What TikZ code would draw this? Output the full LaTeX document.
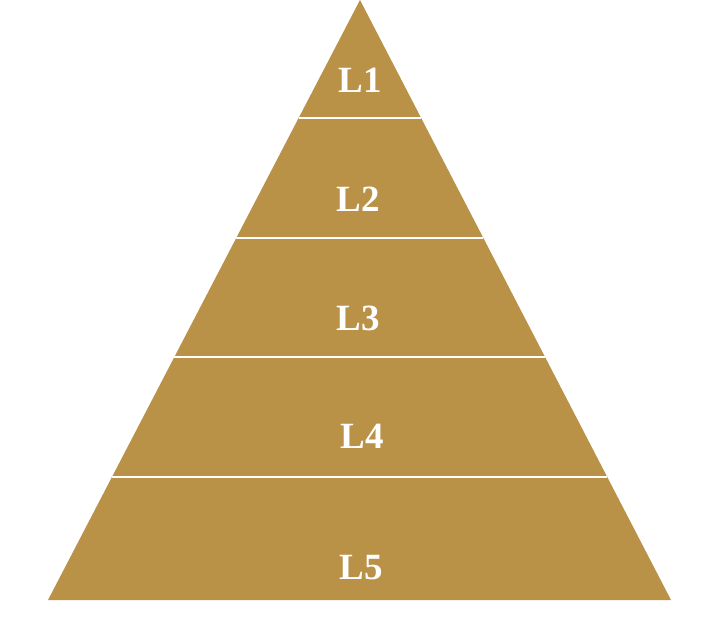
\documentclass[tikz,border=0pt]{standalone}
\usepackage{fontspec}
\setmainfont{Liberation Serif}
\usetikzlibrary{calc}
\definecolor{gold}{HTML}{B99248}
\begin{document}
\begin{tikzpicture}[x=1pt,y=-1pt,
  lbl/.style={text=white,font=\fontsize{37}{37}\selectfont\bfseries,inner sep=0pt},
  sep/.style={draw=white,line width=2pt}]
\useasboundingbox (0,0) rectangle (720,620);
\coordinate (apex) at (360,0);
\coordinate (bl) at (48,600);
\coordinate (br) at (671,600);
\fill[gold] (apex) -- (br) -- (bl) -- cycle;
\foreach \y/\n in {118/a,238/b,357/c,477/d}{
  \coordinate (l\n) at ($(apex)!{\y/600}!(bl)$);
  \coordinate (r\n) at ($(apex)!{\y/600}!(br)$);
  \draw[sep] (l\n) -- (r\n);
}
\node[lbl] (t1) at (360,80) {L1};
\node[lbl] (t2) at (358,199) {L2};
\node[lbl] (t3) at (358,318) {L3};
\node[lbl] (t4) at (362,436) {L4};
\node[lbl] (t5) at (361,568) {L5};
\end{tikzpicture}
\end{document}
